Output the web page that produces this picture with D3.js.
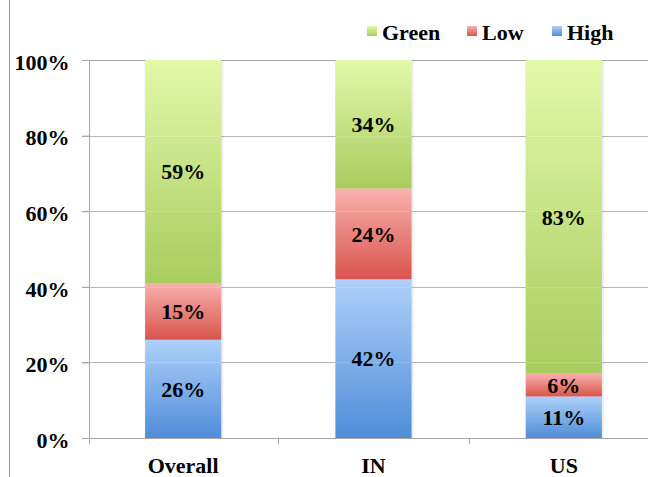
<!DOCTYPE html>
<html>
<head>
<meta charset="utf-8">
<script src="https://cdn.jsdelivr.net/npm/d3@7"></script>
</head>
<body style="margin:0;background:#fff">
<svg id="chart" width="648" height="477" style="display:block"></svg>
<script>
// Share of readings per region, stacked bottom to top: High, Low, Green
const categories = ["Overall", "IN", "US"];
const highValues = [26, 42, 11];
const lowValues = [15, 24, 6];
const greenValues = [59, 34, 83];
const seriesNames = ["High", "Low", "Green"];
const legendOrder = ["Green", "Low", "High"];
const yTicks = [0, 20, 40, 60, 80, 100];

const rows = categories.map((c, i) => ({
  category: c, High: highValues[i], Low: lowValues[i], Green: greenValues[i]
}));

const FONT = "font-family:Liberation Serif;font-weight:bold;font-size:22px";

const svg = d3.select("#chart");
const margin = { left: 89, top: 60, bottom: 39 };
const plotRight = 659;
const H = 477;

const x = d3.scaleBand().domain(categories).range([88, plotRight]).paddingInner(0.6).paddingOuter(0.3);
const y = d3.scaleLinear().domain([0, 100]).range([H - margin.bottom, margin.top]);

const palette = {
  Green: ["#e2f9a9", "#a9cc5f"],
  Low:   ["#f9b1ae", "#d8544c"],
  High:  ["#aed1fa", "#4f8dd8"]
};

const defs = svg.append("defs");
Object.entries(palette).forEach(([k, [top, bottom]]) => {
  const g = defs.append("linearGradient").attr("id", "grad-" + k)
    .attr("x1", 0).attr("y1", 0).attr("x2", 0).attr("y2", 1);
  g.append("stop").attr("offset", "0%").attr("stop-color", top);
  g.append("stop").attr("offset", "100%").attr("stop-color", bottom);
});

// frame line on the left
svg.append("line").attr("x1", 9.5).attr("x2", 9.5).attr("y1", 0).attr("y2", H)
  .attr("stroke", "#9a9a9a").attr("stroke-width", 1);

// gridlines
svg.append("g").selectAll("line").data(yTicks).join("line")
  .attr("x1", margin.left - 7).attr("x2", 648)
  .attr("y1", d => Math.round(y(d)) + 0.5).attr("y2", d => Math.round(y(d)) + 0.5)
  .attr("stroke", "#a6a6a6").attr("stroke-width", 1);

// y axis
const yAxis = svg.append("g").attr("transform", `translate(${margin.left + 0.5},0)`)
  .call(d3.axisLeft(y).tickValues(yTicks).tickFormat(d => d + "%").tickSize(7).tickPadding(13));
yAxis.attr("font-family", null).attr("font-size", null);
yAxis.select(".domain").attr("stroke", "#a6a6a6").attr("d", `M0,${y(100)}V${y(0) + 6}`);
yAxis.selectAll(".tick line").attr("stroke", "#a6a6a6");
yAxis.selectAll(".tick text").attr("style", FONT).attr("fill", "#000").attr("dy", "0.42em");

// x axis
const xAxis = svg.append("g").attr("transform", `translate(0,${Math.round(y(0)) + 0.5})`)
  .call(d3.axisBottom(x).tickSize(0).tickPadding(19));
xAxis.attr("font-family", null).attr("font-size", null);
xAxis.select(".domain").remove();
xAxis.selectAll(".tick text").attr("style", FONT).attr("fill", "#000");
const bounds = [margin.left, ...categories.map(c => x(c) + x.bandwidth() / 2 + x.step() / 2)];
svg.append("g").selectAll("line").data(bounds).join("line")
  .attr("x1", d => Math.round(d) + 0.5).attr("x2", d => Math.round(d) + 0.5)
  .attr("y1", y(0)).attr("y2", y(0) + 6).attr("stroke", "#a6a6a6");

// stacked bars with a soft edge on the right
const stacked = d3.stack().keys(seriesNames)(rows);
const layers = svg.append("g").selectAll("g").data(stacked).join("g");
layers.selectAll("rect.edge").data(d => d.map(p => ({ p, key: d.key }))).join("rect")
  .attr("class", "edge")
  .attr("x", d => x(d.p.data.category) - 0.5)
  .attr("width", x.bandwidth() + 2.5)
  .attr("y", d => y(d.p[1]))
  .attr("height", d => y(d.p[0]) - y(d.p[1]))
  .attr("fill", "#000").attr("fill-opacity", 0.07);
layers.selectAll("rect.seg").data(d => d.map(p => ({ p, key: d.key }))).join("rect")
  .attr("class", "seg")
  .attr("x", d => x(d.p.data.category))
  .attr("width", x.bandwidth())
  .attr("y", d => y(d.p[1]))
  .attr("height", d => y(d.p[0]) - y(d.p[1]))
  .attr("fill", d => `url(#grad-${d.key})`);

// faint gridlines showing through the bars
svg.append("g").selectAll("line").data(yTicks.filter(t => t > 0 && t < 100)).join("line")
  .attr("x1", margin.left).attr("x2", 648)
  .attr("y1", d => Math.round(y(d)) + 0.5).attr("y2", d => Math.round(y(d)) + 0.5)
  .attr("stroke", "#ffffff").attr("stroke-opacity", 0.18);

// value labels
svg.append("g").selectAll("g").data(stacked).join("g")
  .selectAll("text").data(d => d.map(p => ({ p, key: d.key }))).join("text")
  .attr("x", d => x(d.p.data.category) + x.bandwidth() / 2)
  .attr("y", d => (y(d.p[0]) + y(d.p[1])) / 2)
  .attr("dy", "0.35em")
  .attr("text-anchor", "middle")
  .attr("style", FONT)
  .attr("fill", "#000")
  .text(d => d.p.data[d.key] + "%");

// legend
const legendX = [367, 467, 552];
const legend = svg.append("g").selectAll("g").data(legendOrder).join("g")
  .attr("transform", (d, i) => `translate(${legendX[i]},26)`);
legend.append("rect").attr("width", 10).attr("height", 10)
  .attr("fill", d => `url(#grad-${d})`);
legend.append("text").attr("x", 15).attr("y", 6).attr("dy", "0.36em")
  .attr("style", FONT).attr("fill", "#000").text(d => d);
</script>
</body>
</html>
